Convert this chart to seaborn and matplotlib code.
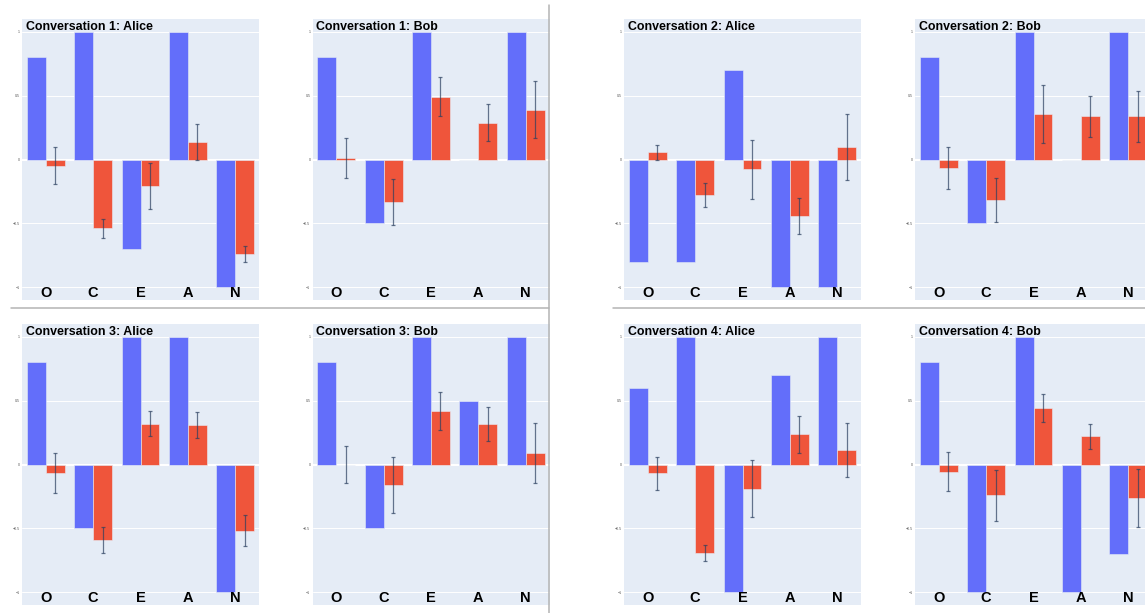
import numpy as np
import pandas as pd
import matplotlib
matplotlib.use('Agg')
import matplotlib.pyplot as plt
from matplotlib.lines import Line2D
import seaborn as sns

TRAITS = ['O', 'C', 'E', 'A', 'N']
SELF_COLOR = '#636EFA'
PRED_COLOR = '#EF553B'
BG_COLOR = '#E5ECF6'
ERR_COLOR = '#2a3f5f'

# blue = self-reported, red = predicted mean, err = half-width of error bar
c1_alice_blue = [0.8, 1.0, -0.7, 1.0, -1.0]
c1_alice_red = [-0.047, -0.538, -0.206, 0.138, -0.739]
c1_alice_err = [0.143, 0.072, 0.179, 0.143, 0.063]

c1_bob_blue = [0.8, -0.5, 1.0, 0.0, 1.0]
c1_bob_red = [0.012, -0.329, 0.49, 0.287, 0.389]
c1_bob_err = [0.153, 0.18, 0.153, 0.146, 0.222]

c2_alice_blue = [-0.8, -0.8, 0.7, -1.0, -1.0]
c2_alice_red = [0.057, -0.277, -0.078, -0.439, 0.099]
c2_alice_err = [0.06, 0.094, 0.228, 0.141, 0.26]

c2_bob_blue = [0.8, -0.5, 1.0, 0.0, 1.0]
c2_bob_red = [-0.068, -0.319, 0.358, 0.337, 0.337]
c2_bob_err = [0.165, 0.172, 0.227, 0.16, 0.2]

c3_alice_blue = [0.8, -0.5, 1.0, 1.0, -1.0]
c3_alice_red = [-0.068, -0.589, 0.318, 0.308, -0.516]
c3_alice_err = [0.155, 0.103, 0.098, 0.103, 0.12]

c3_bob_blue = [0.8, -0.5, 1.0, 0.5, 1.0]
c3_bob_red = [0.0, -0.162, 0.42, 0.318, 0.089]
c3_bob_err = [0.146, 0.219, 0.149, 0.131, 0.235]

c4_alice_blue = [0.6, 1.0, -1.0, 0.7, 1.0]
c4_alice_red = [-0.068, -0.691, -0.19, 0.237, 0.117]
c4_alice_err = [0.13, 0.062, 0.223, 0.144, 0.211]

c4_bob_blue = [0.8, -1.0, 1.0, -1.0, -0.7]
c4_bob_red = [-0.057, -0.24, 0.44, 0.219, -0.261]
c4_bob_err = [0.153, 0.2, 0.11, 0.1, 0.227]

PANELS = [
    ('Conversation 1: Alice', c1_alice_blue, c1_alice_red, c1_alice_err),
    ('Conversation 1: Bob', c1_bob_blue, c1_bob_red, c1_bob_err),
    ('Conversation 2: Alice', c2_alice_blue, c2_alice_red, c2_alice_err),
    ('Conversation 2: Bob', c2_bob_blue, c2_bob_red, c2_bob_err),
    ('Conversation 3: Alice', c3_alice_blue, c3_alice_red, c3_alice_err),
    ('Conversation 3: Bob', c3_bob_blue, c3_bob_red, c3_bob_err),
    ('Conversation 4: Alice', c4_alice_blue, c4_alice_red, c4_alice_err),
    ('Conversation 4: Bob', c4_bob_blue, c4_bob_red, c4_bob_err),
]

W, H = 1145, 613
COL_LEFT = [22, 312.5, 624, 915]
ROW_TOP = [19, 324]
PANEL_W, PANEL_H = 237, 280.5

sns.set_style('white')
plt.rcParams['font.family'] = ['Liberation Sans', 'DejaVu Sans']

fig = plt.figure(figsize=(W / 100, H / 100), dpi=100)

for i, (title, blue, red, err) in enumerate(PANELS):
    row, col = divmod(i, 4)
    left = COL_LEFT[col]
    top = ROW_TOP[row]
    ax = fig.add_axes([left / W, 1 - (top + PANEL_H) / H, PANEL_W / W, PANEL_H / H])
    ax.set_facecolor(BG_COLOR)

    df = pd.DataFrame({
        'trait': TRAITS * 2,
        'value': list(blue) + list(red),
        'source': ['self'] * 5 + ['pred'] * 5,
    })
    sns.barplot(data=df, x='trait', y='value', hue='source', order=TRAITS,
                hue_order=['self', 'pred'], palette=[SELF_COLOR, PRED_COLOR],
                errorbar=None, saturation=1, width=0.8, legend=False,
                edgecolor=BG_COLOR, linewidth=0.4, ax=ax, zorder=2)

    ax.errorbar(np.arange(5) + 0.2, red, yerr=err, fmt='none', ecolor=ERR_COLOR,
                elinewidth=0.9, capsize=1.3, capthick=0.9, alpha=0.7, zorder=3)

    ax.set_xlim(-0.5, 4.5)
    ax.set_ylim(-1.094, 1.098)
    ax.set_yticks([-1, -0.5, 0, 0.5, 1])
    ax.set_yticklabels(['\u22121', '\u22120.5', '0', '0.5', '1'])
    ax.tick_params(axis='y', labelsize=2.6, length=0, pad=1.5, labelcolor='#555555')
    ax.set_xticks([])
    ax.set_xlabel('')
    ax.set_ylabel('')
    ax.set_axisbelow(True)
    ax.grid(axis='y', color='white', linewidth=0.7)
    ax.axhline(0, color='white', linewidth=1.5, zorder=1)
    for s in ax.spines.values():
        s.set_visible(False)

    for k, t in enumerate(TRAITS):
        ax.text(k, -1.076, t, ha='center', va='baseline', fontsize=10.5,
                fontweight='bold', color='black', zorder=4)
    ax.text(0.015, 0.962, title, transform=ax.transAxes, ha='left', va='baseline',
            fontsize=8.9, fontweight='bold', color='black', zorder=4)

# divider lines between the conversations
line_kw = dict(color='#b4b4b4', linewidth=1.1, transform=fig.transFigure)
fig.add_artist(Line2D([548.5 / W, 548.5 / W], [1 - 5 / H, 0], **line_kw))
fig.add_artist(Line2D([11 / W, 548.5 / W], [1 - 308 / H, 1 - 308 / H], **line_kw))
fig.add_artist(Line2D([613 / W, 1], [1 - 308 / H, 1 - 308 / H], **line_kw))

fig.savefig('out.png', dpi=100)
